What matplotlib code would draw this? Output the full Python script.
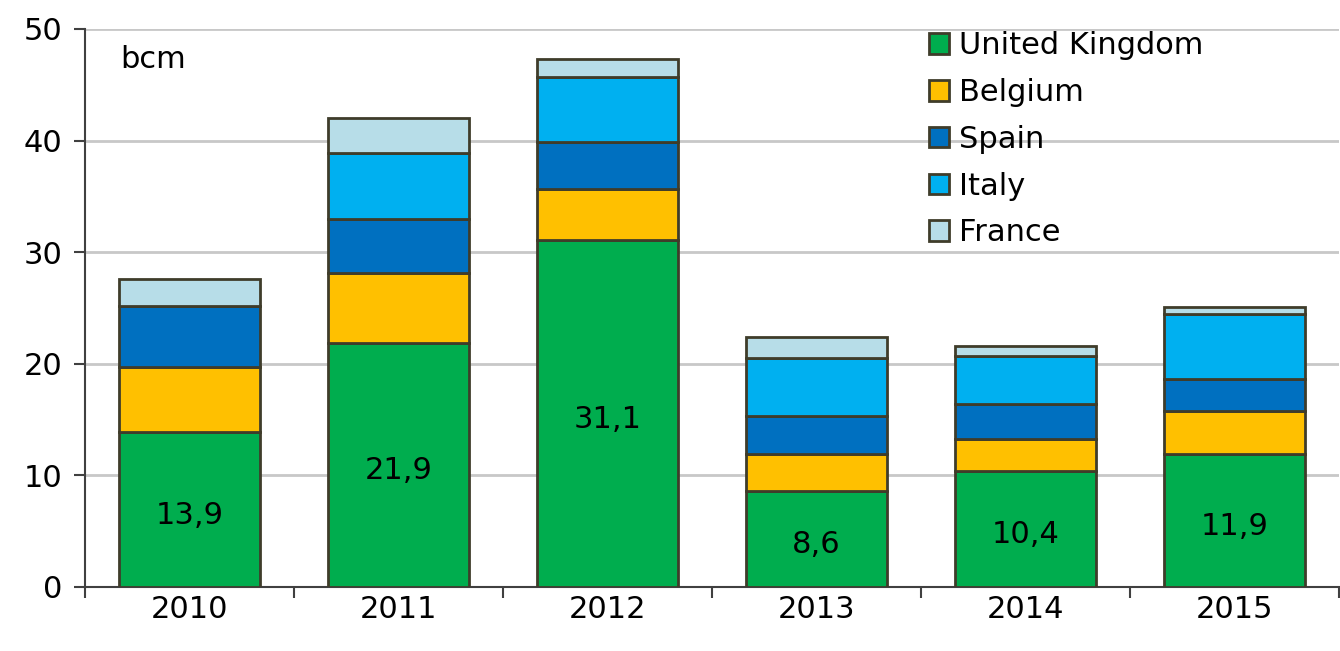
import numpy as np
import matplotlib.pyplot as plt

years = ['2010', '2011', '2012', '2013', '2014', '2015']
uk = [13.9, 21.9, 31.1, 8.6, 10.4, 11.9]
belgium = [5.8, 6.2, 4.6, 3.3, 2.9, 3.9]
spain = [5.5, 4.9, 4.2, 3.4, 3.1, 2.8]
italy = [0.0, 5.9, 5.8, 5.2, 4.3, 5.9]
france = [2.4, 3.1, 1.6, 1.9, 0.9, 0.6]

series = [
    ('United Kingdom', uk, '#00ad4e'),
    ('Belgium', belgium, '#ffc000'),
    ('Spain', spain, '#0070c0'),
    ('Italy', italy, '#00b0f0'),
    ('France', france, '#b7dde8'),
]

plt.rcParams['font.family'] = ['DejaVu Sans']
fig = plt.figure(figsize=(13.4, 6.51), dpi=100)
ax = fig.add_axes([85 / 1340, 1 - 587 / 651, 1254 / 1340, 558 / 651])

x = np.arange(len(years))
bottom = np.zeros(len(years))
for name, vals, color in series:
    ax.bar(x, vals, 0.67, bottom=bottom, color=color, edgecolor='#3f3c2a',
           linewidth=2, label=name, zorder=3)
    bottom += np.array(vals)

for xi, v in zip(x, uk):
    ax.text(xi, v / 2 - 0.5, f'{v:.1f}'.replace('.', ','), ha='center', va='center',
            fontsize=22, color='black', zorder=4)

ax.set_xlim(-0.5, len(years) - 0.5)
ax.set_ylim(0, 50)
ax.set_yticks(range(0, 51, 10))
ax.yaxis.grid(True, color='#c8c8c8', linewidth=2, zorder=0)
ax.set_axisbelow(True)

ax.set_xticks(x)
ax.set_xticklabels(years)
ax.set_xticks(np.arange(-0.5, len(years), 1.0), minor=True)
ax.tick_params(axis='x', which='major', length=0, labelsize=22, pad=6)
ax.tick_params(axis='x', which='minor', length=8, width=1.5, color='#404040')
ax.tick_params(axis='y', length=8, width=1.5, color='#404040', labelsize=22, pad=8)

for s in ['top', 'right']:
    ax.spines[s].set_visible(False)
for s in ['left', 'bottom']:
    ax.spines[s].set_color('#404040')
    ax.spines[s].set_linewidth(1.5)

ax.text(0.028, 0.972, 'bcm', transform=ax.transAxes, fontsize=22, va='top')

ax.legend(loc='upper left', bbox_to_anchor=(0.651, 1.045), frameon=False, fontsize=22,
          handlelength=0.65, handleheight=0.65, handletextpad=0.35, labelspacing=0.58)

fig.savefig('out.png', dpi=100)
